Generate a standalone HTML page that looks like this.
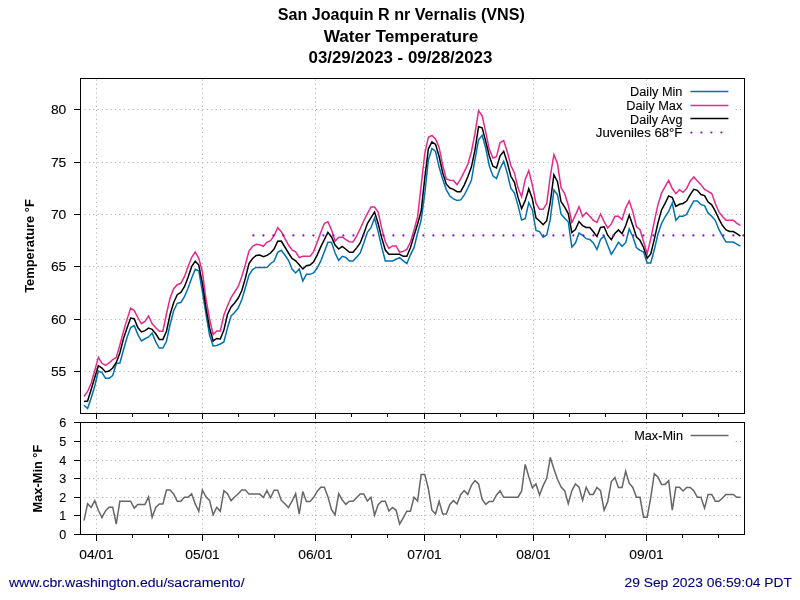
<!DOCTYPE html>
<html><head><meta charset="utf-8"><title>San Joaquin R nr Vernalis (VNS) Water Temperature</title><style>html,body{margin:0;padding:0;background:#fff;}svg{display:block;will-change:transform;}</style></head><body>
<svg width="800" height="600" viewBox="0 0 800 600">
<rect width="800" height="600" fill="#fff"/>
<g font-family='"Liberation Sans", sans-serif' font-weight="bold" font-size="16" fill="#000" text-anchor="middle">
<text x="401.3" y="19.8" textLength="247" lengthAdjust="spacingAndGlyphs">San Joaquin R nr Vernalis (VNS)</text>
<text x="401" y="41.5" textLength="154.7" lengthAdjust="spacingAndGlyphs">Water Temperature</text>
<text x="400.4" y="63.1" textLength="183.8" lengthAdjust="spacingAndGlyphs">03/29/2023 - 09/28/2023</text>
</g>
<g stroke="#a8a8a8" stroke-width="1" stroke-dasharray="1 3.37"><line x1="84.5" y1="109.5" x2="744" y2="109.5"/><line x1="84.5" y1="162.5" x2="744" y2="162.5"/><line x1="84.5" y1="214.5" x2="744" y2="214.5"/><line x1="84.5" y1="266.5" x2="744" y2="266.5"/><line x1="84.5" y1="319.5" x2="744" y2="319.5"/><line x1="84.5" y1="371.5" x2="744" y2="371.5"/><line x1="96.5" y1="79.5" x2="96.5" y2="413"/><line x1="202.5" y1="79.5" x2="202.5" y2="413"/><line x1="315.5" y1="79.5" x2="315.5" y2="413"/><line x1="424.5" y1="79.5" x2="424.5" y2="413"/><line x1="533.5" y1="79.5" x2="533.5" y2="413"/><line x1="646.5" y1="79.5" x2="646.5" y2="413"/><line x1="84.5" y1="515.5" x2="744" y2="515.5"/><line x1="84.5" y1="497.5" x2="744" y2="497.5"/><line x1="84.5" y1="478.5" x2="744" y2="478.5"/><line x1="84.5" y1="460.5" x2="744" y2="460.5"/><line x1="84.5" y1="441.5" x2="744" y2="441.5"/><line x1="96.5" y1="423" x2="96.5" y2="534"/><line x1="202.5" y1="423" x2="202.5" y2="534"/><line x1="315.5" y1="423" x2="315.5" y2="534"/><line x1="424.5" y1="423" x2="424.5" y2="534"/><line x1="533.5" y1="423" x2="533.5" y2="534"/><line x1="646.5" y1="423" x2="646.5" y2="534"/></g>
<clipPath id="cu"><rect x="81" y="79" width="663" height="334"/></clipPath>
<g clip-path="url(#cu)">
<polyline points="84.00,405.25 87.59,408.50 91.17,398.00 94.76,386.00 98.35,371.00 101.94,372.50 105.52,378.30 109.11,378.30 112.70,375.50 116.28,363.50 119.87,363.00 123.46,350.00 127.04,337.50 130.63,327.50 134.22,325.60 137.81,334.40 141.39,341.00 144.98,338.75 148.57,336.90 152.15,333.10 155.74,341.90 159.33,348.10 162.91,348.10 166.50,341.25 170.09,324.50 173.68,310.80 177.26,303.30 180.85,302.50 184.44,296.70 188.02,288.30 191.61,278.30 195.20,269.20 198.78,270.80 202.37,291.70 205.96,314.00 209.55,335.00 213.13,346.00 216.72,345.50 220.31,344.00 223.89,342.00 227.48,328.00 231.07,316.00 234.65,312.50 238.24,308.00 241.83,299.50 245.42,287.50 249.00,275.00 252.59,269.50 256.18,267.40 259.76,267.40 263.35,267.40 266.94,267.40 270.52,263.70 274.11,261.00 277.70,252.30 281.28,250.30 284.87,255.00 288.46,260.30 292.05,269.05 295.63,273.00 299.22,269.00 302.81,281.00 306.39,274.33 309.98,274.33 313.57,272.88 317.15,267.98 320.74,261.08 324.33,251.82 327.92,242.33 331.50,242.33 335.09,253.08 338.68,260.33 342.26,256.33 345.85,257.52 349.44,261.00 353.03,261.00 356.61,257.13 360.20,252.89 363.79,243.00 367.37,232.28 370.96,227.68 374.55,218.00 378.13,231.58 381.72,247.12 385.31,261.00 388.90,261.00 392.48,261.00 396.07,259.30 399.66,257.67 403.24,260.92 406.83,263.67 410.42,254.83 414.00,247.65 417.59,233.00 421.18,220.00 424.77,194.00 428.35,160.00 431.94,148.50 435.53,151.51 439.11,166.94 442.70,179.33 446.29,189.58 449.87,196.01 453.46,198.96 457.05,200.48 460.64,199.88 464.22,195.22 467.81,187.98 471.40,180.29 474.98,159.61 478.57,139.86 482.16,135.33 485.74,148.26 489.33,165.99 492.92,175.90 496.50,178.50 500.09,168.40 503.68,161.33 507.27,173.09 510.85,188.25 514.44,193.03 518.03,205.65 521.61,220.00 525.20,218.72 528.79,202.67 532.38,209.97 535.96,230.44 539.55,231.66 543.14,237.33 546.72,235.07 550.31,219.19 553.90,190.00 557.48,194.72 561.07,214.09 564.66,218.28 568.25,221.75 571.83,247.00 575.42,243.09 579.01,233.00 582.59,235.25 586.18,238.68 589.77,239.47 593.35,242.85 596.94,249.50 600.53,239.47 604.12,236.00 607.70,245.25 611.29,254.33 614.88,248.65 618.46,242.33 622.05,246.33 625.64,242.70 629.22,229.00 632.81,236.53 636.40,247.47 639.99,250.32 643.57,252.12 647.16,263.00 650.75,263.00 654.33,249.56 657.92,234.24 661.51,223.62 665.09,216.76 668.68,211.31 672.27,203.00 675.86,220.33 679.44,216.33 683.03,216.33 686.62,214.36 690.20,207.26 693.79,201.00 697.38,201.00 700.96,204.63 704.55,205.64 708.14,213.19 711.73,216.17 715.31,220.54 718.90,229.44 722.49,236.16 726.07,242.12 729.66,242.12 733.25,242.12 736.83,244.16 740.42,246.07" fill="none" stroke="#0072b2" stroke-width="1.5" stroke-linejoin="miter"/>
<polyline points="84.00,396.50 87.59,391.50 91.17,383.30 94.76,370.50 98.35,357.30 101.94,363.30 105.52,365.30 109.11,363.00 112.70,359.50 116.28,357.50 119.87,345.00 123.46,331.40 127.04,319.40 130.63,308.10 134.22,310.60 137.81,317.50 141.39,323.75 144.98,321.50 148.57,316.00 152.15,323.75 155.74,327.75 159.33,331.25 162.91,331.25 166.50,313.75 170.09,298.00 173.68,288.70 177.26,284.70 180.85,283.30 184.44,276.70 188.02,266.70 191.61,257.50 195.20,252.00 198.78,258.30 202.37,271.70 205.96,299.00 209.55,319.00 213.13,334.50 216.72,331.00 220.31,331.00 223.89,315.00 227.48,306.00 231.07,297.50 234.65,292.00 238.24,286.50 241.83,276.50 245.42,264.50 249.00,251.00 252.59,246.30 256.18,244.30 259.76,244.70 263.35,246.30 266.94,242.30 270.52,240.70 274.11,235.70 277.70,227.70 281.28,231.70 284.87,238.30 288.46,245.00 292.05,249.94 295.63,251.85 299.22,257.67 302.81,256.33 306.39,256.33 309.98,256.33 313.57,251.58 317.15,242.38 320.74,232.57 324.33,223.50 327.92,221.67 331.50,229.84 335.09,241.00 338.68,237.40 342.26,237.00 345.85,239.70 349.44,241.71 353.03,241.93 356.61,236.13 360.20,228.72 363.79,220.76 367.37,213.59 370.96,207.00 374.55,207.00 378.13,212.10 381.72,228.36 385.31,241.80 388.90,248.33 392.48,245.93 396.07,245.93 399.66,252.33 403.24,251.38 406.83,249.37 410.42,242.33 414.00,230.32 417.59,216.70 421.18,185.50 424.77,153.50 428.35,137.20 431.94,135.50 435.53,138.91 439.11,147.43 442.70,165.07 446.29,178.86 449.87,180.16 453.46,180.47 457.05,184.73 460.64,178.79 464.22,171.78 467.81,164.42 471.40,151.75 474.98,133.69 478.57,110.67 482.16,115.90 485.74,132.05 489.33,149.32 492.92,158.00 496.50,156.73 500.09,142.62 503.68,140.67 507.27,151.77 510.85,165.49 514.44,172.93 518.03,188.06 521.61,196.67 525.20,179.38 528.79,170.67 532.38,185.27 535.96,203.14 539.55,209.33 543.14,209.33 546.72,203.57 550.31,176.07 553.90,154.67 557.48,163.52 561.07,187.78 564.66,193.66 568.25,205.18 571.83,222.50 575.42,215.17 579.01,206.80 582.59,216.50 586.18,212.50 589.77,216.23 593.35,220.33 596.94,222.50 600.53,214.00 604.12,221.69 607.70,228.00 611.29,223.89 614.88,216.33 618.46,216.33 622.05,219.67 625.64,208.15 629.22,201.00 632.81,211.60 636.40,226.55 639.99,229.66 643.57,241.57 647.16,253.67 650.75,238.88 654.33,221.33 657.92,204.95 661.51,193.15 665.09,186.72 668.68,180.33 672.27,188.55 675.86,193.67 679.44,189.67 683.03,192.33 686.62,188.39 690.20,181.26 693.79,177.00 697.38,180.94 700.96,184.63 704.55,189.50 708.14,191.40 711.73,193.50 715.31,203.56 718.90,211.97 722.49,216.42 726.07,220.25 729.66,220.25 733.25,220.25 736.83,223.42 740.42,225.45" fill="none" stroke="#e7298a" stroke-width="1.5" stroke-linejoin="miter"/>
<polyline points="84.00,401.50 87.59,401.00 91.17,389.50 94.76,377.50 98.35,365.70 101.94,368.00 105.52,372.00 109.11,371.00 112.70,368.00 116.28,362.50 119.87,353.00 123.46,338.75 127.04,328.00 130.63,318.00 134.22,318.75 137.81,327.50 141.39,331.90 144.98,330.60 148.57,328.10 152.15,329.40 155.74,333.75 159.33,339.40 162.91,339.40 166.50,331.25 170.09,314.50 173.68,302.50 177.26,294.70 180.85,292.50 184.44,286.70 188.02,277.50 191.61,266.70 195.20,261.30 198.78,265.00 202.37,283.30 205.96,308.00 209.55,328.00 213.13,341.00 216.72,338.50 220.31,339.00 223.89,330.00 227.48,314.50 231.07,307.00 234.65,303.00 238.24,298.00 241.83,290.50 245.42,278.00 249.00,263.50 252.59,258.50 256.18,255.40 259.76,255.00 263.35,256.60 266.94,255.40 270.52,253.00 274.11,249.00 277.70,241.30 281.28,241.00 284.87,247.00 288.46,253.00 292.05,258.36 295.63,260.76 299.22,264.86 302.81,269.00 306.39,265.65 309.98,265.00 313.57,261.94 317.15,255.09 320.74,246.85 324.33,239.68 327.92,232.33 331.50,237.00 335.09,245.08 338.68,249.00 342.26,246.33 345.85,249.22 349.44,252.33 353.03,252.33 356.61,247.86 360.20,242.97 363.79,233.63 367.37,223.61 370.96,217.57 374.55,212.00 378.13,223.54 381.72,237.88 385.31,250.03 388.90,254.33 392.48,254.33 396.07,254.33 399.66,254.33 403.24,256.33 406.83,256.33 410.42,247.67 414.00,235.87 417.59,224.00 421.18,211.00 424.77,178.00 428.35,149.00 431.94,141.80 435.53,144.35 439.11,156.50 442.70,172.87 446.29,184.14 449.87,188.01 453.46,189.34 457.05,191.67 460.64,191.67 464.22,185.06 467.81,176.81 471.40,167.07 474.98,149.82 478.57,126.67 482.16,127.83 485.74,141.54 489.33,155.99 492.92,166.25 496.50,168.00 500.09,155.89 503.68,151.33 507.27,162.44 510.85,176.31 514.44,182.29 518.03,197.41 521.61,208.67 525.20,200.66 528.79,188.67 532.38,199.01 535.96,217.79 539.55,220.96 543.14,224.67 546.72,220.71 550.31,202.14 553.90,174.67 557.48,181.69 561.07,201.79 564.66,207.15 568.25,213.53 571.83,232.50 575.42,229.57 579.01,221.50 582.59,225.54 586.18,227.50 589.77,227.50 593.35,231.81 596.94,236.50 600.53,227.50 604.12,226.80 607.70,235.22 611.29,239.67 614.88,233.47 618.46,229.93 622.05,233.67 625.64,225.79 629.22,215.00 632.81,225.43 636.40,236.81 639.99,240.32 643.57,247.48 647.16,258.33 650.75,254.00 654.33,239.06 657.92,223.03 661.51,210.01 665.09,203.38 668.68,195.93 672.27,197.46 675.86,206.33 679.44,204.31 683.03,203.47 686.62,201.04 690.20,194.52 693.79,189.27 697.38,190.38 700.96,194.57 704.55,195.64 708.14,202.03 711.73,204.84 715.31,211.13 718.90,218.89 722.49,225.54 726.07,229.98 729.66,231.50 733.25,231.50 736.83,233.54 740.42,236.02" fill="none" stroke="#000000" stroke-width="1.5" stroke-linejoin="miter"/>
</g>
<polyline points="84.00,520.62 87.59,503.75 91.17,507.50 94.76,500.62 98.35,510.22 101.94,517.50 105.52,510.83 109.11,507.25 112.70,507.25 116.28,524.00 119.87,501.25 123.46,501.25 127.04,501.25 130.63,501.25 134.22,508.12 137.81,504.38 141.39,504.38 144.98,504.38 148.57,496.88 152.15,517.25 155.74,507.39 159.33,504.00 162.91,504.00 166.50,490.00 170.09,490.00 173.68,494.00 177.26,501.25 180.85,501.25 184.44,497.25 188.02,497.25 191.61,493.75 195.20,503.87 198.78,511.25 202.37,490.00 205.96,496.79 209.55,500.42 213.13,514.75 216.72,507.25 220.31,511.25 223.89,490.62 227.48,493.73 231.07,500.62 234.65,496.98 238.24,493.73 241.83,490.00 245.42,490.00 249.00,494.12 252.59,494.12 256.18,494.12 259.76,494.12 263.35,497.50 266.94,490.38 270.52,497.75 274.11,490.25 277.70,490.25 281.28,500.40 284.87,503.77 288.46,507.50 292.05,501.04 295.63,493.75 299.22,514.00 302.81,491.50 306.39,501.50 309.98,501.50 313.57,497.60 317.15,491.42 320.74,487.25 324.33,487.25 327.92,496.64 331.50,509.72 335.09,514.75 338.68,493.75 342.26,499.96 345.85,504.38 349.44,501.25 353.03,501.25 356.61,497.69 360.20,494.00 363.79,494.00 367.37,501.00 370.96,497.25 374.55,515.25 378.13,504.75 381.72,501.25 385.31,501.25 388.90,511.00 392.48,507.50 396.07,510.30 399.66,524.00 403.24,517.94 406.83,511.25 410.42,511.25 414.00,497.25 417.59,501.00 421.18,474.38 424.77,474.38 428.35,488.74 431.94,510.25 435.53,514.00 439.11,501.25 442.70,514.00 446.29,514.00 449.87,504.38 453.46,500.62 457.05,504.00 460.64,494.67 464.22,490.62 467.81,494.38 471.40,485.42 474.98,480.62 478.57,483.94 482.16,499.37 485.74,504.38 489.33,501.50 492.92,501.50 496.50,494.89 500.09,490.88 503.68,497.25 507.27,497.25 510.85,497.25 514.44,497.25 518.03,497.25 521.61,491.25 525.20,464.38 528.79,476.71 532.38,487.75 535.96,484.00 539.55,495.00 543.14,485.64 546.72,478.30 550.31,457.50 553.90,469.03 557.48,479.33 561.07,487.07 564.66,490.66 568.25,503.75 571.83,490.79 575.42,484.00 579.01,487.16 582.59,500.25 586.18,487.25 589.77,494.38 593.35,494.38 596.94,487.50 600.53,490.60 604.12,510.25 607.70,501.71 611.29,481.88 614.88,477.50 618.46,487.50 622.05,487.50 625.64,471.25 629.22,483.19 632.81,487.42 636.40,497.25 639.99,497.25 643.57,517.25 647.16,517.25 650.75,497.67 654.33,473.75 657.92,476.97 661.51,484.38 665.09,484.38 668.68,480.62 672.27,510.25 675.86,487.25 679.44,487.25 683.03,491.00 686.62,487.50 690.20,487.50 693.79,490.69 697.38,497.25 700.96,497.25 704.55,508.12 708.14,494.38 711.73,494.38 715.31,501.25 718.90,501.25 722.49,497.93 726.07,494.38 729.66,494.38 733.25,494.38 736.83,497.25 740.42,497.25" fill="none" stroke="#666666" stroke-width="1.5" stroke-linejoin="miter"/>
<g fill="#9400d3"><circle cx="253.4" cy="235.4" r="1.1"/><circle cx="263.4" cy="235.4" r="1.1"/><circle cx="273.4" cy="235.4" r="1.1"/><circle cx="283.4" cy="235.4" r="1.1"/><circle cx="293.4" cy="235.4" r="1.1"/><circle cx="303.4" cy="235.4" r="1.1"/><circle cx="313.4" cy="235.4" r="1.1"/><circle cx="323.4" cy="235.4" r="1.1"/><circle cx="333.4" cy="235.4" r="1.1"/><circle cx="343.4" cy="235.4" r="1.1"/><circle cx="353.4" cy="235.4" r="1.1"/><circle cx="363.4" cy="235.4" r="1.1"/><circle cx="373.4" cy="235.4" r="1.1"/><circle cx="383.4" cy="235.4" r="1.1"/><circle cx="393.4" cy="235.4" r="1.1"/><circle cx="403.4" cy="235.4" r="1.1"/><circle cx="413.4" cy="235.4" r="1.1"/><circle cx="423.4" cy="235.4" r="1.1"/><circle cx="433.4" cy="235.4" r="1.1"/><circle cx="443.4" cy="235.4" r="1.1"/><circle cx="453.4" cy="235.4" r="1.1"/><circle cx="463.4" cy="235.4" r="1.1"/><circle cx="473.4" cy="235.4" r="1.1"/><circle cx="483.4" cy="235.4" r="1.1"/><circle cx="493.4" cy="235.4" r="1.1"/><circle cx="503.4" cy="235.4" r="1.1"/><circle cx="513.4" cy="235.4" r="1.1"/><circle cx="523.4" cy="235.4" r="1.1"/><circle cx="533.4" cy="235.4" r="1.1"/><circle cx="543.4" cy="235.4" r="1.1"/><circle cx="553.4" cy="235.4" r="1.1"/><circle cx="563.4" cy="235.4" r="1.1"/><circle cx="573.4" cy="235.4" r="1.1"/><circle cx="583.4" cy="235.4" r="1.1"/><circle cx="593.4" cy="235.4" r="1.1"/><circle cx="603.4" cy="235.4" r="1.1"/><circle cx="613.4" cy="235.4" r="1.1"/><circle cx="623.4" cy="235.4" r="1.1"/><circle cx="633.4" cy="235.4" r="1.1"/><circle cx="643.4" cy="235.4" r="1.1"/><circle cx="653.4" cy="235.4" r="1.1"/><circle cx="663.4" cy="235.4" r="1.1"/><circle cx="673.4" cy="235.4" r="1.1"/><circle cx="683.4" cy="235.4" r="1.1"/><circle cx="693.4" cy="235.4" r="1.1"/><circle cx="703.4" cy="235.4" r="1.1"/><circle cx="713.4" cy="235.4" r="1.1"/><circle cx="723.4" cy="235.4" r="1.1"/><circle cx="733.4" cy="235.4" r="1.1"/><circle cx="743.4" cy="235.4" r="1.1"/></g>
<rect x="570.5" y="86" width="162.5" height="53" fill="#fff"/>
<g font-family='"Liberation Sans", sans-serif' font-size="12" fill="#000" stroke="#000" stroke-width="0.1" text-anchor="end">
<text x="682.4" y="95.9" textLength="52.3" lengthAdjust="spacingAndGlyphs">Daily Min</text>
<text x="682.4" y="109.6" textLength="56.2" lengthAdjust="spacingAndGlyphs">Daily Max</text>
<text x="682.4" y="123.8" textLength="52.3" lengthAdjust="spacingAndGlyphs">Daily Avg</text>
<text x="682.4" y="136.5" textLength="86.6" lengthAdjust="spacingAndGlyphs">Juveniles 68°F</text>
</g>
<line x1="690.4" y1="91.5" x2="728.4" y2="91.5" stroke="#0072b2" stroke-width="1.5"/>
<line x1="690.4" y1="105.5" x2="728.4" y2="105.5" stroke="#e7298a" stroke-width="1.5"/>
<line x1="690.4" y1="118.5" x2="728.4" y2="118.5" stroke="#000" stroke-width="1.5"/>
<g fill="#9400d3"><circle cx="691.4" cy="132.5" r="1.1"/><circle cx="701.4" cy="132.5" r="1.1"/><circle cx="711.4" cy="132.5" r="1.1"/><circle cx="721.4" cy="132.5" r="1.1"/></g>
<rect x="627.5" y="429.5" width="105.5" height="16" fill="#fff"/>
<text x="683" y="439.8" font-family='"Liberation Sans", sans-serif' font-size="12" stroke="#000" stroke-width="0.1" text-anchor="end" textLength="48.8" lengthAdjust="spacingAndGlyphs">Max-Min</text>
<line x1="690.7" y1="435.5" x2="728.5" y2="435.5" stroke="#666" stroke-width="1.5"/>
<g stroke="#000" stroke-width="1" fill="none"><rect x="80.5" y="78.5" width="664.0" height="335.0" fill="none"/><rect x="80.5" y="422.5" width="664.0" height="112.0" fill="none"/><line x1="74" y1="109.5" x2="80" y2="109.5"/><line x1="74" y1="162.5" x2="80" y2="162.5"/><line x1="74" y1="214.5" x2="80" y2="214.5"/><line x1="74" y1="266.5" x2="80" y2="266.5"/><line x1="74" y1="319.5" x2="80" y2="319.5"/><line x1="74" y1="371.5" x2="80" y2="371.5"/><line x1="74" y1="534.5" x2="80" y2="534.5"/><line x1="74" y1="515.5" x2="80" y2="515.5"/><line x1="74" y1="497.5" x2="80" y2="497.5"/><line x1="74" y1="478.5" x2="80" y2="478.5"/><line x1="74" y1="460.5" x2="80" y2="460.5"/><line x1="74" y1="441.5" x2="80" y2="441.5"/><line x1="74" y1="422.5" x2="80" y2="422.5"/><line x1="96.5" y1="414" x2="96.5" y2="419"/><line x1="96.5" y1="535" x2="96.5" y2="541"/><line x1="132.5" y1="414" x2="132.5" y2="417"/><line x1="132.5" y1="535" x2="132.5" y2="538"/><line x1="168.5" y1="414" x2="168.5" y2="417"/><line x1="168.5" y1="535" x2="168.5" y2="538"/><line x1="202.5" y1="414" x2="202.5" y2="419"/><line x1="202.5" y1="535" x2="202.5" y2="541"/><line x1="238.5" y1="414" x2="238.5" y2="417"/><line x1="238.5" y1="535" x2="238.5" y2="538"/><line x1="274.5" y1="414" x2="274.5" y2="417"/><line x1="274.5" y1="535" x2="274.5" y2="538"/><line x1="315.5" y1="414" x2="315.5" y2="419"/><line x1="315.5" y1="535" x2="315.5" y2="541"/><line x1="351.5" y1="414" x2="351.5" y2="417"/><line x1="351.5" y1="535" x2="351.5" y2="538"/><line x1="387.5" y1="414" x2="387.5" y2="417"/><line x1="387.5" y1="535" x2="387.5" y2="538"/><line x1="424.5" y1="414" x2="424.5" y2="419"/><line x1="424.5" y1="535" x2="424.5" y2="541"/><line x1="460.5" y1="414" x2="460.5" y2="417"/><line x1="460.5" y1="535" x2="460.5" y2="538"/><line x1="496.5" y1="414" x2="496.5" y2="417"/><line x1="496.5" y1="535" x2="496.5" y2="538"/><line x1="533.5" y1="414" x2="533.5" y2="419"/><line x1="533.5" y1="535" x2="533.5" y2="541"/><line x1="569.5" y1="414" x2="569.5" y2="417"/><line x1="569.5" y1="535" x2="569.5" y2="538"/><line x1="605.5" y1="414" x2="605.5" y2="417"/><line x1="605.5" y1="535" x2="605.5" y2="538"/><line x1="646.5" y1="414" x2="646.5" y2="419"/><line x1="646.5" y1="535" x2="646.5" y2="541"/><line x1="682.5" y1="414" x2="682.5" y2="417"/><line x1="682.5" y1="535" x2="682.5" y2="538"/><line x1="718.5" y1="414" x2="718.5" y2="417"/><line x1="718.5" y1="535" x2="718.5" y2="538"/></g>
<g font-family='"Liberation Sans", sans-serif' font-size="12.6" fill="#000" stroke="#000" stroke-width="0.1" text-anchor="end">
<text x="66.3" y="114.0" textLength="15.4" lengthAdjust="spacingAndGlyphs">80</text>
<text x="66.3" y="167.0" textLength="15.4" lengthAdjust="spacingAndGlyphs">75</text>
<text x="66.3" y="219.0" textLength="15.4" lengthAdjust="spacingAndGlyphs">70</text>
<text x="66.3" y="271.0" textLength="15.4" lengthAdjust="spacingAndGlyphs">65</text>
<text x="66.3" y="324.0" textLength="15.4" lengthAdjust="spacingAndGlyphs">60</text>
<text x="66.3" y="376.0" textLength="15.4" lengthAdjust="spacingAndGlyphs">55</text>
<text x="66.3" y="539.0" textLength="7" lengthAdjust="spacingAndGlyphs">0</text>
<text x="66.3" y="520.0" textLength="7" lengthAdjust="spacingAndGlyphs">1</text>
<text x="66.3" y="502.0" textLength="7" lengthAdjust="spacingAndGlyphs">2</text>
<text x="66.3" y="483.0" textLength="7" lengthAdjust="spacingAndGlyphs">3</text>
<text x="66.3" y="465.0" textLength="7" lengthAdjust="spacingAndGlyphs">4</text>
<text x="66.3" y="446.0" textLength="7" lengthAdjust="spacingAndGlyphs">5</text>
<text x="66.3" y="427.0" textLength="7" lengthAdjust="spacingAndGlyphs">6</text>
</g>
<g font-family='"Liberation Sans", sans-serif' font-size="12.5" fill="#000" stroke="#000" stroke-width="0.1" text-anchor="middle">
<text x="96.5" y="559" textLength="34.5" lengthAdjust="spacingAndGlyphs">04/01</text>
<text x="202.5" y="559" textLength="34.5" lengthAdjust="spacingAndGlyphs">05/01</text>
<text x="315.5" y="559" textLength="34.5" lengthAdjust="spacingAndGlyphs">06/01</text>
<text x="424.5" y="559" textLength="34.5" lengthAdjust="spacingAndGlyphs">07/01</text>
<text x="533.5" y="559" textLength="34.5" lengthAdjust="spacingAndGlyphs">08/01</text>
<text x="646.5" y="559" textLength="34.5" lengthAdjust="spacingAndGlyphs">09/01</text>
</g>
<text transform="translate(34.3,246) rotate(-90)" font-family='"Liberation Sans", sans-serif' font-weight="bold" font-size="12.5" text-anchor="middle" textLength="93.6" lengthAdjust="spacingAndGlyphs">Temperature °F</text>
<text transform="translate(42.2,478.6) rotate(-90)" font-family='"Liberation Sans", sans-serif' font-weight="bold" font-size="12.5" text-anchor="middle" textLength="67.8" lengthAdjust="spacingAndGlyphs">Max-Min °F</text>
<text x="8.9" y="587" font-family='"Liberation Sans", sans-serif' font-size="12" fill="#000080" stroke="#000080" stroke-width="0.1" textLength="235.7" lengthAdjust="spacingAndGlyphs">www.cbr.washington.edu/sacramento/</text>
<text x="624.5" y="587" font-family='"Liberation Sans", sans-serif' font-size="12" fill="#000080" stroke="#000080" stroke-width="0.1" textLength="167.5" lengthAdjust="spacingAndGlyphs">29 Sep 2023 06:59:04 PDT</text>
</svg>
</body></html>
